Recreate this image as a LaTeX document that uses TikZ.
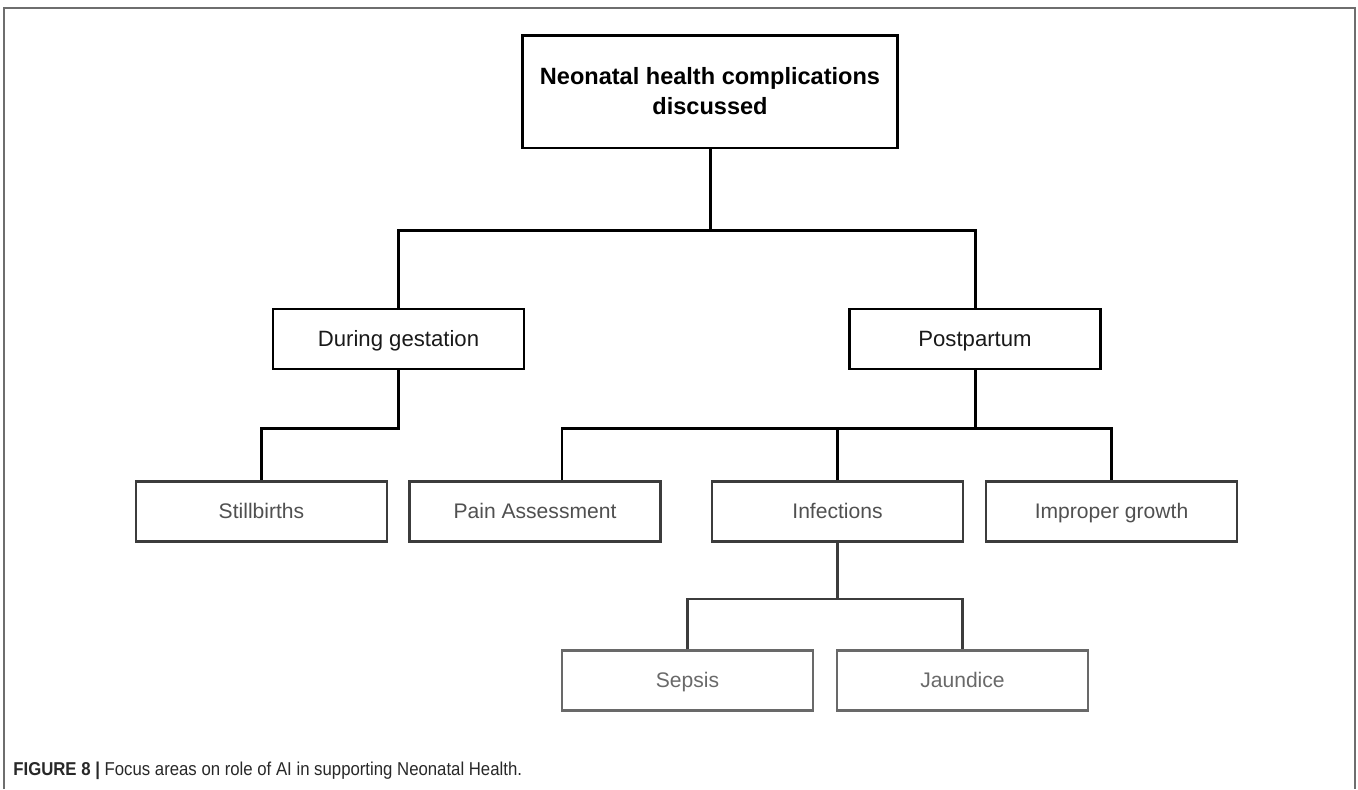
\documentclass[tikz,border=0pt]{standalone}
\usepackage{fontspec}
\setmainfont{Liberation Sans}
\newfontfamily\capfont[FakeStretch=0.9]{Liberation Sans}
\usepackage{tikz}
\usetikzlibrary{positioning,calc}
\definecolor{nhblack}{RGB}{25,25,25}
\definecolor{nhdark}{RGB}{60,60,60}
\definecolor{nhtext}{RGB}{80,80,80}
\definecolor{nhlight}{RGB}{105,105,105}
\definecolor{nhframe}{RGB}{110,110,110}
\definecolor{nhcap}{RGB}{40,40,40}
\tikzstyle{link} = [line width=1.7pt, color=black]
\tikzstyle{sublink} = [line width=1.3pt, color=nhdark]
\tikzstyle{topbox} = [rectangle, draw=black, line width=1.7pt, minimum width=7.52cm, minimum height=2.26cm, align=center, font=\fontsize{13.4}{17}\selectfont\bfseries]
\tikzstyle{mainbox} = [rectangle, draw=black, line width=1.6pt, minimum width=5.02cm, minimum height=1.2cm, text centered, text height=1.6ex, text depth=0ex, text=nhblack, font=\fontsize{12.6}{15}\selectfont]
\tikzstyle{subbox} = [mainbox, draw=nhdark, line width=1.3pt, text=nhtext, font=\fontsize{12}{15}\selectfont]
\tikzstyle{leafbox} = [subbox, draw=nhlight, line width=1.2pt, text=nhlight]

\begin{document}
\begin{tikzpicture}[x=0.02cm, y=-0.02cm]
\useasboundingbox (0,0) rectangle (1358,789);
% frame
\draw[nhframe, line width=0.9pt] (4,789) -- (4,8) -- (1355,8) -- (1355,789);

\node[topbox] (top) at (710,91.5) {Neonatal health complications\\discussed};

\node[mainbox] (gest) at (398.5,339) {During gestation};
\node[mainbox] (post) at (975,339) {Postpartum};

\node[subbox] (still) at (261.5,511.5) {Stillbirths};
\node[subbox] (pain) at (535,511.5) {Pain Assessment};
\node[subbox] (infe) at (837.5,511.5) {Infections};
\node[subbox] (grow) at (1111.5,511.5) {Improper growth};

\node[leafbox] (seps) at (687.5,680.5) {Sepsis};
\node[leafbox] (jaun) at (962.5,680.5) {Jaundice};

% connectors
\coordinate (tbus) at (710,230);
\draw[link] (top.south) -- (tbus);
\draw[link] (gest.north) |- (tbus) -| (post.north);

\draw[link] (gest.south) -- ++(0,58) -| (still.north);

\coordinate (pbus) at (975,428);
\draw[link] (post.south) -- (pbus);
\draw[link] ([xshift=0.54cm]pain.north) |- (pbus) -| (grow.north);
\draw[link] (infe.north) -- (infe.north |- pbus);

\draw[sublink] (infe.south) -- ++(0,56) coordinate (ibus);
\draw[sublink] (seps.north) |- (ibus) -| (jaun.north);

\node[anchor=west, text=nhcap, inner sep=0pt] (cap) at (13,771) {\capfont\fontsize{10.6}{12}\selectfont\textbf{FIGURE 8 |} Focus areas on role of AI in supporting Neonatal Health.};
\end{tikzpicture}
\end{document}
